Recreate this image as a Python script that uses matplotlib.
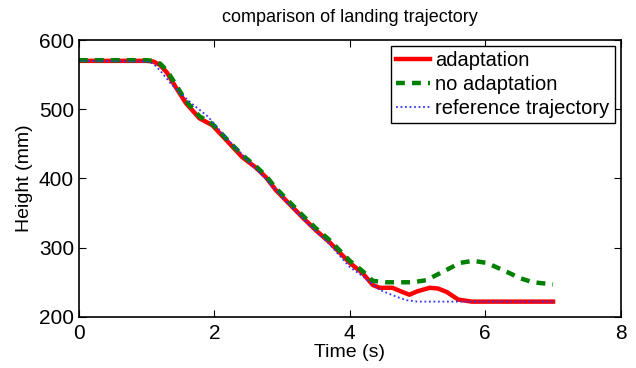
import matplotlib.pyplot as plt

plt.rcParams['font.family'] = ['Liberation Sans', 'DejaVu Sans']

# adaptation (red, solid)
t_adapt = [0, 0.5, 1.0, 1.1, 1.2, 1.3, 1.43, 1.58, 1.78, 1.97, 2.22, 2.41, 2.61,
           2.76, 2.91, 3.1, 3.3, 3.5, 3.7, 4.0, 4.19, 4.34, 4.44, 4.63, 4.75,
           4.88, 5.0, 5.18, 5.3, 5.43, 5.6, 5.8, 6.5, 7.0]
h_adapt = [570, 570, 570, 569, 564, 553, 532, 509, 487, 477, 451, 431, 416,
           402, 383, 364, 344, 325, 308, 278, 263, 246, 242, 242, 237,
           232, 237, 242, 241, 236, 225, 222, 222, 222]

# no adaptation (green, dashed)
t_noad = [0, 1.0, 1.1, 1.2, 1.3, 1.43, 1.58, 1.78, 1.97, 2.22, 2.41, 2.61, 2.76,
          2.91, 3.1, 3.3, 3.5, 3.7, 4.0, 4.19, 4.34, 4.54, 4.93, 5.13, 5.43,
          5.63, 5.82, 6.02, 6.32, 6.51, 6.7, 6.9, 7.0]
h_noad = [571, 571, 570, 566, 556, 536, 512, 490, 479, 453, 434, 418, 404,
          386, 367, 347, 328, 311, 281, 266, 252, 250, 250, 253, 268,
          278, 281, 278, 265, 256, 250, 248, 247]

# reference trajectory (blue, dotted)
t_ref = [0, 1.0, 1.1, 1.2, 1.35, 1.5, 1.67, 1.9, 2.2, 2.5, 2.8, 3.1, 3.4, 3.7,
         4.0, 4.2, 4.44, 4.69, 4.84, 5.0, 7.0]
h_ref = [570, 569, 566, 556, 538, 523, 508, 490, 456, 426, 395, 363, 333, 305,
         272, 258, 239, 229, 224, 222, 222]

fig = plt.figure(figsize=(6.36, 3.68), dpi=100)
ax = fig.add_axes([0.124, 0.139, 0.852, 0.752])

ax.plot(t_adapt, h_adapt, color='red', lw=3.2, label='adaptation')
ax.plot(t_noad, h_noad, color='green', lw=3.2, ls=(0, (2, 1.6)), label='no adaptation')
ax.plot(t_ref, h_ref, color='#3333ff', lw=1.3, ls=(0, (1, 1.5)), label='reference trajectory')

ax.set_xlim(0, 8)
ax.set_ylim(200, 600)
ax.set_xticks([0, 2, 4, 6, 8])
ax.set_yticks([200, 300, 400, 500, 600])
ax.tick_params(direction='in', top=True, right=True, labelsize=15, length=5, width=0.8)
ax.tick_params(axis='x', pad=5)
for s in ax.spines.values():
    s.set_linewidth(1.2)

ax.set_xlabel('Time (s)', fontsize=14, labelpad=1)
ax.set_ylabel('Height (mm)', fontsize=14, labelpad=4)
ax.set_title('comparison of landing trajectory', fontsize=13, pad=13)

leg = ax.legend(loc='upper right', fontsize=14.5, handlelength=1.7, handletextpad=0.25,
                borderpad=0.25, labelspacing=0.25, fancybox=False, framealpha=1,
                borderaxespad=0.3)
leg.get_frame().set_edgecolor('black')
leg.get_frame().set_linewidth(1.0)

plt.savefig('out.png', dpi=100)
